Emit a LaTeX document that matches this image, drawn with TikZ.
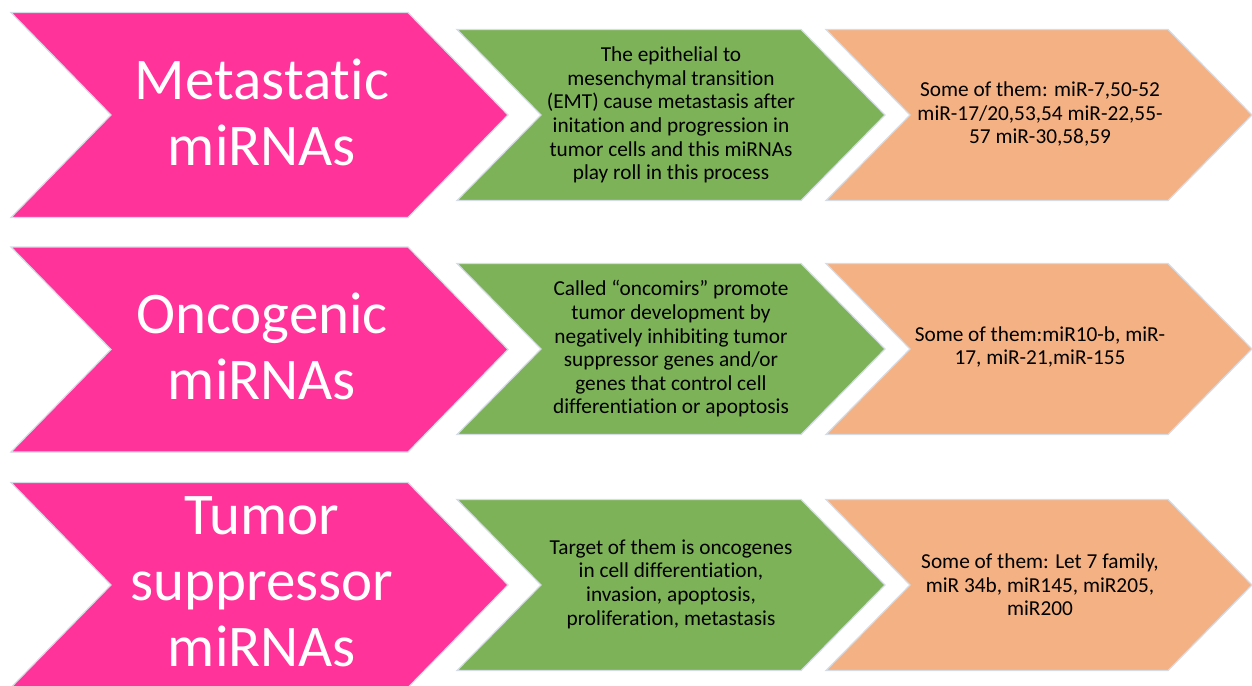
\documentclass[tikz,border=0pt]{standalone}
\usepackage{fontspec}
\setmainfont{Carlito}[Ligatures={NoCommon,NoContextual},RawFeature={-liga;-clig;-calt}]
\definecolor{pinkc}{HTML}{FF3399}
\definecolor{greenc}{HTML}{7DB258}
\definecolor{orangec}{HTML}{F4B183}
\definecolor{edgec}{HTML}{D5DCE6}
\newcommand{\chevshape}[6]{% fill, x0, xr, d, yc, h
  \filldraw[fill=#1, draw=edgec, line width=1.2pt, line join=miter]
    (#2,#5-#6) -- (#3,#5-#6) -- (#3+#4,#5) -- (#3,#5+#6) -- (#2,#5+#6) -- (#2+#4,#5) -- cycle;}
\tikzset{
  bigtext/.style={text=white, align=center, inner sep=0pt, font=\fontsize{59}{66}\selectfont},
  smalltext/.style={text=black, align=center, inner sep=0pt, font=\fontsize{21.3}{23.6}\selectfont},
}
\begin{document}
\begin{tikzpicture}[x=1pt,y=-1pt]
\useasboundingbox (0,0) rectangle (1252,685);
% row 1
\chevshape{pinkc}{11}{408}{100}{115}{102.5}
\chevshape{greenc}{457}{801}{84}{115}{85.5}
\chevshape{orangec}{826}{1168}{84}{115}{85.5}
% row 2
\chevshape{pinkc}{11}{408}{100}{349.5}{102.5}
\chevshape{greenc}{457}{801}{84}{349}{85.5}
\chevshape{orangec}{826}{1168}{84}{349}{85.5}
% row 3
\chevshape{pinkc}{11}{408}{100}{585}{102.5}
\chevshape{greenc}{457}{801}{84}{585}{85.5}
\chevshape{orangec}{826}{1168}{84}{585}{85.5}

\node[bigtext] (p1) at (262,112) {Metastatic\\miRNAs};
\node[bigtext] (p2) at (262,346) {Oncogenic\\miRNAs};
\node[bigtext] (p3) at (262,582) {Tumor\\suppressor\\miRNAs};

\node[smalltext] (g1) at (671,115) {The epithelial to\\mesenchymal transition\\(EMT) cause metastasis after\\initation and progression in\\tumor cells and this miRNAs\\play roll in this process};
\node[smalltext] (g2) at (671,349) {Called “oncomirs” promote\\tumor development by\\negatively inhibiting tumor\\suppressor genes and/or\\genes that control cell\\differentiation or apoptosis};
\node[smalltext] (g3) at (671,584) {Target of them is oncogenes\\in cell differentiation,\\invasion, apoptosis,\\proliferation, metastasis};

\node[smalltext] (o1) at (1040,114) {Some of them: miR-7,50-52\\miR-17/20,53,54 miR-22,55-\\57 miR-30,58,59};
\node[smalltext] (o2) at (1040,347) {Some of them:miR10-b, miR-\\17, miR-21,miR-155};
\node[smalltext] (o3) at (1040,585) {Some of them: Let 7 family,\\miR 34b, miR145, miR205,\\miR200};
\end{tikzpicture}
\end{document}
